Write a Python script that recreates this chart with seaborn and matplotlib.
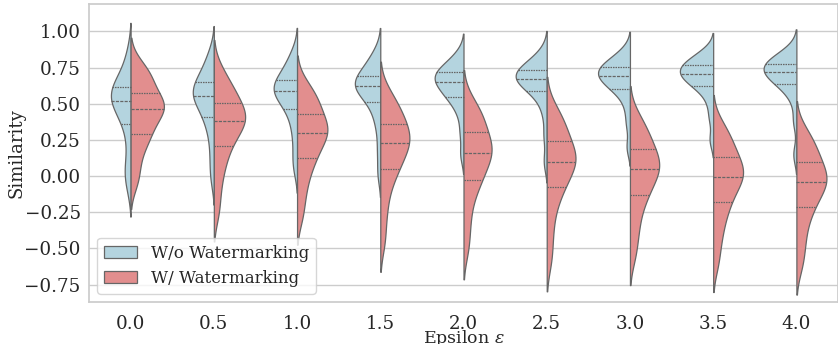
import numpy as np
import pandas as pd
import seaborn as sns
import matplotlib.pyplot as plt
from matplotlib.ticker import MultipleLocator, FuncFormatter

epsilons = ["0.0", "0.5", "1.0", "1.5", "2.0", "2.5", "3.0", "3.5", "4.0"]

# similarity samples, one list per epsilon
sim_without_wm = [
    [-0.08, 0.02, 0.05, 0.18, 0.30, 0.38, 0.42, 0.46, 0.49, 0.51, 0.53, 0.55, 0.57, 0.59, 0.61, 0.63, 0.66, 0.70, 0.76, 0.86],
    [-0.02, 0.10, 0.22, 0.32, 0.38, 0.42, 0.47, 0.50, 0.53, 0.54, 0.565, 0.58, 0.60, 0.62, 0.64, 0.67, 0.70, 0.74, 0.79, 0.86],
    [0.05, 0.15, 0.27, 0.36, 0.43, 0.475, 0.51, 0.54, 0.56, 0.58, 0.595, 0.61, 0.625, 0.64, 0.66, 0.69, 0.72, 0.75, 0.80, 0.86],
    [0.02, 0.18, 0.33, 0.42, 0.48, 0.525, 0.56, 0.585, 0.60, 0.615, 0.627, 0.64, 0.655, 0.67, 0.685, 0.713, 0.74, 0.77, 0.81, 0.86],
    [0.15, 0.30, 0.42, 0.49, 0.53, 0.555, 0.58, 0.60, 0.625, 0.64, 0.662, 0.675, 0.685, 0.70, 0.712, 0.73, 0.75, 0.77, 0.80, 0.85],
    [0.10, 0.28, 0.43, 0.52, 0.57, 0.593, 0.62, 0.64, 0.655, 0.668, 0.68, 0.69, 0.70, 0.715, 0.73, 0.745, 0.76, 0.78, 0.81, 0.86],
    [0.20, 0.36, 0.47, 0.55, 0.59, 0.61, 0.635, 0.655, 0.67, 0.683, 0.697, 0.71, 0.725, 0.738, 0.75, 0.766, 0.78, 0.80, 0.83, 0.87],
    [0.25, 0.40, 0.50, 0.57, 0.61, 0.627, 0.65, 0.67, 0.685, 0.697, 0.71, 0.725, 0.738, 0.75, 0.76, 0.78, 0.795, 0.81, 0.84, 0.87],
    [0.15, 0.38, 0.52, 0.59, 0.625, 0.641, 0.665, 0.685, 0.70, 0.713, 0.727, 0.74, 0.752, 0.763, 0.774, 0.79, 0.805, 0.82, 0.845, 0.88],
]

sim_with_wm = [
    [-0.05, 0.05, 0.15, 0.22, 0.27, 0.30, 0.35, 0.39, 0.43, 0.45, 0.475, 0.49, 0.51, 0.53, 0.56, 0.62, 0.65, 0.69, 0.73, 0.78],
    [-0.25, -0.10, 0.02, 0.10, 0.17, 0.225, 0.27, 0.31, 0.35, 0.37, 0.395, 0.41, 0.43, 0.46, 0.50, 0.535, 0.57, 0.61, 0.66, 0.74],
    [-0.28, -0.15, -0.05, 0.03, 0.09, 0.135, 0.18, 0.22, 0.26, 0.29, 0.31, 0.33, 0.35, 0.38, 0.42, 0.47, 0.50, 0.54, 0.58, 0.64],
    [-0.45, -0.28, -0.15, -0.05, 0.02, 0.057, 0.10, 0.15, 0.19, 0.215, 0.237, 0.26, 0.29, 0.32, 0.355, 0.39, 0.43, 0.47, 0.52, 0.58],
    [-0.50, -0.35, -0.22, -0.12, -0.05, -0.018, 0.03, 0.08, 0.12, 0.145, 0.17, 0.195, 0.22, 0.25, 0.29, 0.34, 0.38, 0.42, 0.46, 0.52],
    [-0.58, -0.42, -0.28, -0.18, -0.10, -0.07, -0.02, 0.03, 0.07, 0.09, 0.11, 0.13, 0.16, 0.19, 0.23, 0.275, 0.32, 0.36, 0.41, 0.47],
    [-0.55, -0.42, -0.32, -0.23, -0.16, -0.12, -0.07, -0.03, 0.01, 0.035, 0.06, 0.085, 0.11, 0.14, 0.175, 0.215, 0.26, 0.30, 0.35, 0.42],
    [-0.60, -0.46, -0.36, -0.28, -0.21, -0.17, -0.12, -0.07, -0.03, -0.01, 0.005, 0.03, 0.06, 0.09, 0.125, 0.16, 0.21, 0.25, 0.30, 0.36],
    [-0.62, -0.50, -0.40, -0.31, -0.24, -0.20, -0.15, -0.11, -0.07, -0.05, -0.03, -0.005, 0.02, 0.05, 0.09, 0.13, 0.17, 0.21, 0.26, 0.32],
]

series_names = ["W/o Watermarking", "W/ Watermarking"]

rows = []
for eps, vals in zip(epsilons, sim_without_wm):
    rows += [(eps, v, series_names[0]) for v in vals]
for eps, vals in zip(epsilons, sim_with_wm):
    rows += [(eps, v, series_names[1]) for v in vals]
df = pd.DataFrame(rows, columns=["Epsilon", "Similarity", "Type"])

sns.set_theme(style="whitegrid", font="DejaVu Serif", font_scale=1.2)
plt.rcParams["mathtext.fontset"] = "dejavuserif"

fig, ax = plt.subplots(figsize=(8.38, 3.44), dpi=100)
fig.subplots_adjust(left=89 / 838, right=1.0, top=1 - 4 / 344, bottom=1 - 302 / 344)

sns.violinplot(
    data=df,
    x="Epsilon",
    y="Similarity",
    hue="Type",
    order=epsilons,
    split=True,
    inner="quart",
    palette=["lightblue", "lightcoral"],
    bw_adjust=0.72,
    linewidth=0.9,
    linecolor="#666666",
    ax=ax,
)

ax.yaxis.set_major_locator(MultipleLocator(0.25))
ax.yaxis.set_major_formatter(FuncFormatter(lambda v, pos: f"{v:.2f}".replace("-", "\u2212")))
ax.tick_params(axis="y", pad=0)
ax.set_ylim(-0.87, 1.19)

ax.set_xlabel(r"Epsilon $\epsilon$", fontsize=12.5, labelpad=-4)
ax.set_ylabel("Similarity", fontsize=13)
ax.yaxis.set_label_coords(-0.085, 0.5)
ax.legend(loc="lower left", fontsize=12)

fig.savefig("out.png", dpi=100)
